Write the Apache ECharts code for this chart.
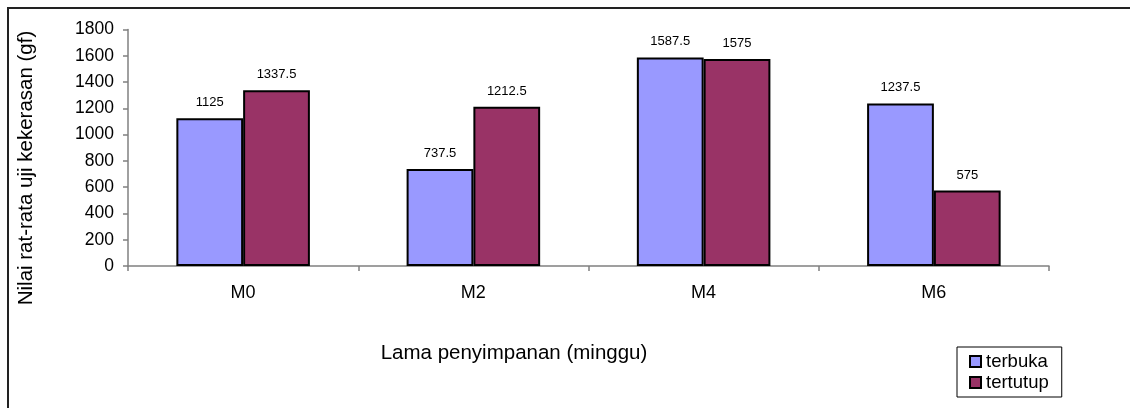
<!DOCTYPE html>
<html>
<head>
<meta charset="utf-8">
<script src="https://cdn.jsdelivr.net/npm/echarts@6/dist/echarts.min.js"></script>
<style>
  html, body { margin: 0; padding: 0; background: #fff; }
  #chart { width: 1130px; height: 408px; }
</style>
</head>
<body>
<div id="chart"></div>
<script>
// Storage weeks on the x axis
const categories = ['M0', 'M2', 'M4', 'M6'];
// Mean hardness (gf) for open and closed storage
const terbuka = [1125, 737.5, 1587.5, 1237.5];
const tertutup = [1337.5, 1212.5, 1575, 575];
const yTicks = [0, 200, 400, 600, 800, 1000, 1200, 1400, 1600, 1800];

const FONT = '"Liberation Sans", Arial, sans-serif';
const AXIS_GREY = '#808080';

const chart = echarts.init(document.getElementById('chart'), null, { renderer: 'canvas' });

function barSeries(name, data, color) {
  return {
    name: name,
    type: 'bar',
    data: data,
    barGap: '0%',
    barCategoryGap: '42%',
    itemStyle: { color: color, borderColor: '#000', borderWidth: 2 },
    label: {
      show: true,
      position: 'top',
      distance: 9,
      color: '#000',
      fontFamily: FONT,
      fontSize: 13
    },
    emphasis: { disabled: true }
  };
}

chart.setOption({
  animation: false,
  backgroundColor: '#fff',
  textStyle: { fontFamily: FONT },
  grid: { left: 128, right: 81, top: 29.5, bottom: 142, containLabel: false },
  xAxis: {
    type: 'category',
    data: categories,
    axisLine: { lineStyle: { color: AXIS_GREY, width: 1.5 } },
    axisTick: { show: true, length: 5, lineStyle: { color: AXIS_GREY, width: 1.5 } },
    axisLabel: { color: '#000', fontFamily: FONT, fontSize: 18, margin: 18 },
    splitLine: { show: false }
  },
  yAxis: {
    type: 'value',
    min: yTicks[0],
    max: yTicks[yTicks.length - 1],
    interval: yTicks[1] - yTicks[0],
    axisLine: { show: true, lineStyle: { color: AXIS_GREY, width: 1.5 } },
    axisTick: { show: true, length: 5, lineStyle: { color: AXIS_GREY, width: 1.5 } },
    axisLabel: {
      color: '#000', fontFamily: FONT, fontSize: 17.5, margin: 14,
      formatter: function (v) { return String(v); }
    },
    splitLine: { show: false }
  },
  legend: {
    orient: 'vertical',
    left: 957,
    top: 347,
    padding: [5, 13, 5, 12],
    itemGap: 2,
    itemWidth: 11,
    itemHeight: 11,
    icon: 'rect',
    borderColor: '#000',
    borderWidth: 1,
    backgroundColor: '#fff',
    textStyle: { color: '#000', fontFamily: FONT, fontSize: 18.5, lineHeight: 19 },
    data: ['terbuka', 'tertutup']
  },
  series: [
    barSeries('terbuka', terbuka, '#9999FF'),
    barSeries('tertutup', tertutup, '#993366')
  ],
  graphic: [
    {
      type: 'rect',
      shape: { x: 8, y: 8, width: 1200, height: 500 },
      style: { fill: 'none', stroke: '#222', lineWidth: 2 },
      silent: true,
      z: -1
    },
    {
      type: 'text',
      x: 514,
      y: 353,
      style: {
        text: 'Lama penyimpanan (minggu)',
        fill: '#000',
        font: '20.5px ' + FONT,
        textAlign: 'center',
        textVerticalAlign: 'middle'
      }
    },
    {
      type: 'text',
      x: 26,
      y: 168,
      rotation: Math.PI / 2,
      style: {
        text: 'Nilai rat-rata uji kekerasan (gf)',
        fill: '#000',
        font: '20.5px ' + FONT,
        textAlign: 'center',
        textVerticalAlign: 'middle'
      }
    }
  ]
});
</script>
</body>
</html>
